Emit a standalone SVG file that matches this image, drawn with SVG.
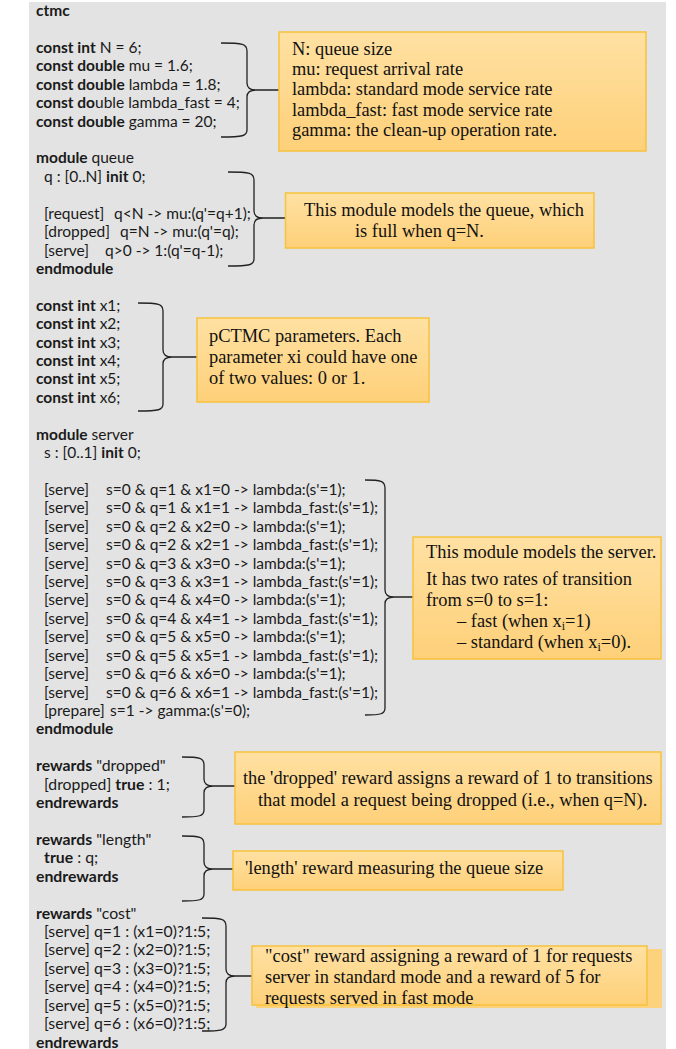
<svg xmlns="http://www.w3.org/2000/svg" width="676" height="1049" viewBox="0 0 676 1049">
<defs>
<linearGradient id="note" x1="0" y1="0" x2="0" y2="1">
<stop offset="0" stop-color="#ffe1a3"/>
<stop offset="1" stop-color="#fed079"/>
</linearGradient>
<style>
.code{font-family:Lato,"Liberation Sans",sans-serif;font-size:15.5px;fill:#1a1a1a}
.code2{font-size:15.8px}
.b{font-weight:bold}
.note{fill:url(#note);stroke:#f7c23c;stroke-width:1.5}
.nt{font-family:"Liberation Serif","Times New Roman",serif;font-size:18.4px;fill:#111}
.brace{fill:none;stroke:#222;stroke-width:1.3}
</style>
</defs>
<rect x="0" y="0" width="676" height="1049" fill="#ffffff"/>
<rect x="29" y="2" width="637" height="1047" fill="#e3e3e3"/>

<g id="code-header" class="code">
<text x="36" y="16" class="b">ctmc</text>
<text x="36" y="52.8"><tspan class="b">const int</tspan> N = 6;</text>
<text x="36" y="71.3"><tspan class="b">const double</tspan> mu = 1.6;</text>
<text x="36" y="89.7"><tspan class="b">const double</tspan> lambda = 1.8;</text>
<text x="36" y="108.1"><tspan class="b">const do</tspan>uble lambda_fast = 4;</text>
<text x="36" y="126.5"><tspan class="b">const double</tspan> gamma = 20;</text>
</g>

<g id="code-queue" class="code">
<text x="36" y="163.4"><tspan class="b">module</tspan> queue</text>
<text x="44" y="181.8">q : [0..N] <tspan class="b">init</tspan> 0;</text>
<text y="218.6"><tspan x="44">[request]</tspan><tspan x="114">q&lt;N -&gt; mu:(q'=q+1);</tspan></text>
<text y="237"><tspan x="44">[dropped]</tspan><tspan x="120">q=N -&gt; mu:(q'=q);</tspan></text>
<text y="255.5"><tspan x="44">[serve]</tspan><tspan x="105">q&gt;0 -&gt; 1:(q'=q-1);</tspan></text>
<text x="36" y="273.9" class="b">endmodule</text>
</g>

<g id="code-params" class="code">
<text x="36" y="310.7"><tspan class="b">const int</tspan> x1;</text>
<text x="36" y="329.1"><tspan class="b">const int</tspan> x2;</text>
<text x="36" y="347.6"><tspan class="b">const int</tspan> x3;</text>
<text x="36" y="366"><tspan class="b">const int</tspan> x4;</text>
<text x="36" y="384.4"><tspan class="b">const int</tspan> x5;</text>
<text x="36" y="402.8"><tspan class="b">const int</tspan> x6;</text>
</g>

<g id="code-server" class="code">
<text x="36" y="439.7"><tspan class="b">module</tspan> server</text>
<text x="44" y="458.1">s : [0..1] <tspan class="b">init</tspan> 0;</text>
<text y="494.9"><tspan x="44">[serve]</tspan><tspan x="106">s=0 &amp; q=1 &amp; x1=0 -&gt; lambda:(s'=1);</tspan></text>
<text y="513.3"><tspan x="44">[serve]</tspan><tspan x="106">s=0 &amp; q=1 &amp; x1=1 -&gt; lambda_fast:(s'=1);</tspan></text>
<text y="531.8"><tspan x="44">[serve]</tspan><tspan x="106">s=0 &amp; q=2 &amp; x2=0 -&gt; lambda:(s'=1);</tspan></text>
<text y="550.2"><tspan x="44">[serve]</tspan><tspan x="106">s=0 &amp; q=2 &amp; x2=1 -&gt; lambda_fast:(s'=1);</tspan></text>
<text y="568.6"><tspan x="44">[serve]</tspan><tspan x="106">s=0 &amp; q=3 &amp; x3=0 -&gt; lambda:(s'=1);</tspan></text>
<text y="587"><tspan x="44">[serve]</tspan><tspan x="106">s=0 &amp; q=3 &amp; x3=1 -&gt; lambda_fast:(s'=1);</tspan></text>
<text y="605.4"><tspan x="44">[serve]</tspan><tspan x="106">s=0 &amp; q=4 &amp; x4=0 -&gt; lambda:(s'=1);</tspan></text>
<text y="623.9"><tspan x="44">[serve]</tspan><tspan x="106">s=0 &amp; q=4 &amp; x4=1 -&gt; lambda_fast:(s'=1);</tspan></text>
<text y="642.3"><tspan x="44">[serve]</tspan><tspan x="106">s=0 &amp; q=5 &amp; x5=0 -&gt; lambda:(s'=1);</tspan></text>
<text y="660.7"><tspan x="44">[serve]</tspan><tspan x="106">s=0 &amp; q=5 &amp; x5=1 -&gt; lambda_fast:(s'=1);</tspan></text>
<text y="679.1"><tspan x="44">[serve]</tspan><tspan x="106">s=0 &amp; q=6 &amp; x6=0 -&gt; lambda:(s'=1);</tspan></text>
<text y="697.5"><tspan x="44">[serve]</tspan><tspan x="106">s=0 &amp; q=6 &amp; x6=1 -&gt; lambda_fast:(s'=1);</tspan></text>
<text y="716"><tspan x="44">[prepare]</tspan><tspan x="110">s=1 -&gt; gamma:(s'=0);</tspan></text>
<text x="36" y="734.4" class="b">endmodule</text>
</g>

<g id="code-rewards-dropped" class="code code2">
<text x="36" y="771.2"><tspan class="b">rewards</tspan> "dropped"</text>
<text x="44" y="789.6">[dropped] <tspan class="b">true</tspan> : 1;</text>
<text x="36" y="808.1" class="b">endrewards</text>
</g>

<g id="code-rewards-length" class="code code2">
<text x="36" y="844.9"><tspan class="b">rewards</tspan> "length"</text>
<text x="44" y="863.3"><tspan class="b">true</tspan> : q;</text>
<text x="36" y="881.7" class="b">endrewards</text>
</g>

<g id="code-rewards-cost" class="code code2">
<text x="36" y="918.6"><tspan class="b">rewards</tspan> "cost"</text>
<text x="44" y="937">[serve] q=1 : (x1=0)?1:5;</text>
<text x="44" y="955.4">[serve] q=2 : (x2=0)?1:5;</text>
<text x="44" y="973.8">[serve] q=3 : (x3=0)?1:5;</text>
<text x="44" y="992.2">[serve] q=4 : (x4=0)?1:5;</text>
<text x="44" y="1010.7">[serve] q=5 : (x5=0)?1:5;</text>
<text x="44" y="1029.1">[serve] q=6 : (x6=0)?1:5;</text>
<text x="36" y="1047.5" class="b">endrewards</text>
</g>

<g id="connectors" class="brace">
<path d="M221,43 C243,43 247,44 247,51 L247,83 C247,87 250,90 256,90 L279,90 M256,90 C250,90 247,93 247,97 L247,130 C247,136 243,137 221,137"/>
<path d="M228,172 C250,172 254,173 254,180 L254,211 C254,215 257,218 263,218 L285,218 M263,218 C257,218 254,221 254,225 L254,259 C254,265 250,266 228,266"/>
<path d="M138,303 C159,303 163,304 163,311 L163,350 C163,354 166,357 172,357 L197,357 M172,357 C166,357 163,360 163,364 L163,404 C163,410 159,411 138,411"/>
<path d="M365,480 C381,480 385,481 385,488 L385,590 C385,594 388,597 394,597 L413,597 M394,597 C388,597 385,600 385,604 L385,708 C385,714 381,715 365,715"/>
<path d="M182,757 C200,757 204,758 204,765 L204,779 C204,783 207,786 213,786 L235,786 M213,786 C207,786 204,789 204,793 L204,810 C204,816 200,817 182,817"/>
<path d="M182,836 C200,836 204,837 204,844 L204,862 C204,866 207,869 213,869 L233,869 M213,869 C207,869 204,872 204,876 L204,894 C204,900 200,901 182,901"/>
<path d="M202,918 C222,918 226,919 226,926 L226,969 C226,973 229,976 235,976 L252,976 M235,976 C229,976 226,979 226,983 L226,1024 C226,1030 222,1031 202,1031"/>
</g>

<g id="note-constants">
<rect class="note" x="279" y="32" width="367" height="119"/>
<text class="nt" x="292" y="55">N: queue size</text>
<text class="nt" x="292" y="75.2">mu: request arrival rate</text>
<text class="nt" x="292" y="95.4">lambda: standard mode service rate</text>
<text class="nt" x="292" y="115.6">lambda_fast: fast mode service rate</text>
<text class="nt" x="292" y="135.8">gamma: the clean-up operation rate.</text>
</g>

<g id="note-queue">
<rect class="note" x="285.5" y="193" width="308.5" height="55"/>
<text class="nt" x="304" y="216">This module models the queue, which</text>
<text class="nt" x="355" y="237">is full when q=N.</text>
</g>

<g id="note-params">
<rect class="note" x="197" y="318" width="232" height="84"/>
<text class="nt" x="209" y="342">pCTMC parameters. Each</text>
<text class="nt" x="209" y="363">parameter xi could have one</text>
<text class="nt" x="209" y="384">of two values: 0 or 1.</text>
</g>

<g id="note-server">
<rect class="note" x="413" y="537" width="248" height="122"/>
<text class="nt" x="426" y="558">This module models the server.</text>
<text class="nt" x="426" y="585">It has two rates of transition</text>
<text class="nt" x="426" y="606">from s=0 to s=1:</text>
<text class="nt" x="457" y="627">– fast (when x<tspan font-size="12" dy="3">i</tspan><tspan dy="-3">=1)</tspan></text>
<text class="nt" x="457" y="648">– standard (when x<tspan font-size="12" dy="3">i</tspan><tspan dy="-3">=0).</tspan></text>
</g>

<g id="note-dropped">
<rect class="note" x="235" y="752" width="426" height="72"/>
<text class="nt" x="243" y="784">the 'dropped' reward assigns a reward of 1 to transitions</text>
<text class="nt" x="258" y="806">that model a request being dropped (i.e., when q=N).</text>
</g>

<g id="note-length">
<rect class="note" x="233" y="851" width="330" height="39"/>
<text class="nt" x="245" y="874">'length' reward measuring the queue size</text>
</g>

<g id="note-cost">
<rect x="256" y="949" width="406" height="59" fill="#fdd27c"/>
<rect class="note" x="252" y="946" width="395" height="59"/>
<text class="nt" x="265" y="962">"cost" reward assigning a reward of 1 for requests</text>
<text class="nt" x="265" y="983">server in standard mode and a reward of 5 for</text>
<text class="nt" x="265" y="1004">requests served in fast mode</text>
</g>
</svg>
